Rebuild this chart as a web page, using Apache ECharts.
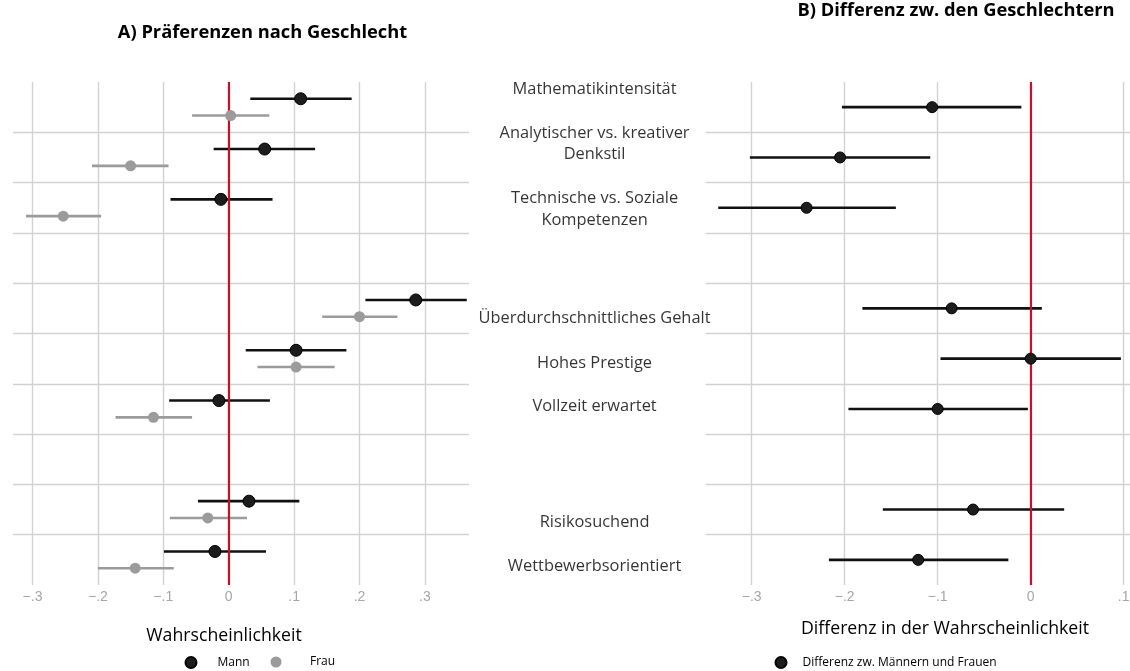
<!DOCTYPE html>
<html>
<head>
<meta charset="utf-8">
<script src="https://cdn.jsdelivr.net/npm/echarts@6/dist/echarts.min.js"></script>
<style>
html,body{margin:0;padding:0;background:#fff;}
#chart{width:1130px;height:671px;}
</style>
</head>
<body>
<div id="chart"></div>
<script>
// ---------- data ----------
var categories = ['Mathematikintensität', 'Analytischer vs. kreativer\nDenkstil', 'Technische vs. Soziale\nKompetenzen', '',
  'Überdurchschnittliches Gehalt', 'Hohes Prestige', 'Vollzeit erwartet', '', 'Risikosuchend', 'Wettbewerbsorientiert'];
var mannEst = [0.110, 0.055, -0.012, null, 0.286, 0.103, -0.015, null, 0.031, -0.021];
var mannLo  = [0.033, -0.023, -0.089, null, 0.209, 0.026, -0.091, null, -0.047, -0.099];
var mannHi  = [0.188, 0.132, 0.067, null, 0.364, 0.180, 0.063, null, 0.108, 0.057];
var frauEst = [0.003, -0.150, -0.253, null, 0.200, 0.103, -0.115, null, -0.032, -0.143];
var frauLo  = [-0.056, -0.209, -0.310, null, 0.143, 0.044, -0.173, null, -0.090, -0.200];
var frauHi  = [0.062, -0.092, -0.195, null, 0.258, 0.162, -0.056, null, 0.028, -0.084];
var diffEst = [-0.106, -0.205, -0.241, null, -0.085, 0.000, -0.100, null, -0.062, -0.121];
var diffLo  = [-0.203, -0.302, -0.336, null, -0.181, -0.097, -0.196, null, -0.159, -0.217];
var diffHi  = [-0.010, -0.108, -0.145, null, 0.012, 0.097, -0.003, null, 0.036, -0.024];
var ticksLeft = [-0.3, -0.2, -0.1, 0, 0.1, 0.2, 0.3];
var tickLabelsLeft = ['\u2212.3', '\u2212.2', '\u2212.1', '0', '.1', '.2', '.3'];
var ticksRight = [-0.3, -0.2, -0.1, 0, 0.1];
var tickLabelsRight = ['\u2212.3', '\u2212.2', '\u2212.1', '0', '.1'];

// ---------- layout ----------
var labelRowPos = [0.145, 1.233, 2.535, null, 4.704, 5.594, 6.453, null, 8.748, 9.622];
var offMann = 1 / 3, offFrau = 2 / 3, offDiff = 0.5;

function pts(est, off) {
  var out = [];
  est.forEach(function (v, i) { if (v !== null) out.push([v, i + off]); });
  return out;
}
function bars(lo, hi, off) {
  var out = [];
  lo.forEach(function (v, i) { if (v !== null) out.push([i + off, v, hi[i]]); });
  return out;
}
function errSeries(name, xi, data, color, width) {
  return {
    name: name, type: 'custom', xAxisIndex: xi, yAxisIndex: xi, silent: true,
    encode: { x: [1, 2], y: 0 },
    data: data,
    renderItem: function (params, api) {
      var y = api.value(0), lo = api.value(1), hi = api.value(2);
      var p1 = api.coord([lo, y]), p2 = api.coord([hi, y]);
      return { type: 'line', shape: { x1: p1[0], y1: p1[1], x2: p2[0], y2: p2[1] },
        style: { stroke: color, lineWidth: width } };
    },
    z: 3
  };
}
function fmt(labels, ticks) {
  return function (v) {
    for (var i = 0; i < ticks.length; i++) if (Math.abs(ticks[i] - v) < 1e-6) return labels[i];
    return '';
  };
}
var labelData = [];
categories.forEach(function (c, i) { if (c !== '' && labelRowPos[i] !== null) labelData.push({ value: [0.53, labelRowPos[i]], name: c }); });

var gridLine = { show: true, showMinLine: false, showMaxLine: false, lineStyle: { color: '#d2d2d2', width: 1.4 } };
var vGridLine = { show: true, lineStyle: { color: '#d2d2d2', width: 1.4 } };
var tickFont = { color: '#a6a6a6', fontFamily: 'Liberation Sans', fontSize: 14, margin: 5 };
var FONT = 'Open Sans';

function legendBox(name, left, padL) {
  return { data: [name], left: left, top: 656, padding: 0, itemWidth: 11, itemHeight: 11,
    icon: 'circle', textStyle: { fontFamily: FONT, fontSize: 12, color: '#000', padding: [0, 0, 0, padL] } };
}

var option = {
  animation: false,
  backgroundColor: '#fff',
  title: [
    { text: 'A) Präferenzen nach Geschlecht', left: 262.5, top: 24, padding: 0, textAlign: 'center',
      textStyle: { fontFamily: FONT, fontWeight: 'bold', fontSize: 18.3, color: '#000' } },
    { text: 'B) Differenz zw. den Geschlechtern', left: 956, top: 2, padding: 0, textAlign: 'center',
      textStyle: { fontFamily: FONT, fontWeight: 'bold', fontSize: 18.3, color: '#000' } },
    { text: 'Wahrscheinlichkeit', left: 224, top: 627, padding: 0, textAlign: 'center',
      textStyle: { fontFamily: FONT, fontWeight: 'normal', fontSize: 17.7, color: '#000' } },
    { text: 'Differenz in der Wahrscheinlichkeit', left: 945, top: 620, padding: 0, textAlign: 'center',
      textStyle: { fontFamily: FONT, fontWeight: 'normal', fontSize: 17.7, color: '#000' } }
  ],
  legend: [
    legendBox('Mann', 184.5, 16),
    legendBox('Frau', 270.5, 23.5),
    legendBox('Differenz zw. Männern und Frauen', 774.5, 11)
  ],
  grid: [
    { left: 13, top: 82, width: 456, height: 503, outerBoundsMode: 'none' },
    { left: 705.7, top: 82, width: 424.3, height: 503, outerBoundsMode: 'none' },
    { left: 470, top: 82, width: 235, height: 503, outerBoundsMode: 'none' }
  ],
  xAxis: [
    { type: 'value', gridIndex: 0, min: -0.3298, max: 0.3674,
      axisLine: { show: false }, axisTick: { show: false, customValues: ticksLeft },
      axisLabel: Object.assign({ customValues: ticksLeft, formatter: fmt(tickLabelsLeft, ticksLeft) }, tickFont),
      splitLine: vGridLine },
    { type: 'value', gridIndex: 1, min: -0.3495, max: 0.1068,
      axisLine: { show: false }, axisTick: { show: false, customValues: ticksRight },
      axisLabel: Object.assign({ customValues: ticksRight, formatter: fmt(tickLabelsRight, ticksRight) }, tickFont),
      splitLine: vGridLine },
    { type: 'value', gridIndex: 2, min: 0, max: 1, show: false }
  ],
  yAxis: [
    { type: 'value', gridIndex: 0, min: 0, max: 10, interval: 1, inverse: true,
      axisLine: { show: false }, axisTick: { show: false }, axisLabel: { show: false }, splitLine: gridLine },
    { type: 'value', gridIndex: 1, min: 0, max: 10, interval: 1, inverse: true,
      axisLine: { show: false }, axisTick: { show: false }, axisLabel: { show: false }, splitLine: gridLine },
    { type: 'value', gridIndex: 2, min: 0, max: 10, inverse: true, show: false }
  ],
  series: [
    errSeries('Mann CI', 0, bars(mannLo, mannHi, offMann), '#111', 2.6),
    errSeries('Frau CI', 0, bars(frauLo, frauHi, offFrau), '#9b9b9b', 2.6),
    errSeries('Diff CI', 1, bars(diffLo, diffHi, offDiff), '#111', 2.6),
    { name: 'Mann', type: 'scatter', xAxisIndex: 0, yAxisIndex: 0, data: pts(mannEst, offMann),
      symbolSize: 12, itemStyle: { color: '#1c1c1c', borderColor: '#000', borderWidth: 1, opacity: 1 }, z: 5,
      markLine: { silent: true, symbol: ['none', 'none'], label: { show: false },
        lineStyle: { color: '#c8102e', width: 2.2, type: 'solid' }, data: [{ xAxis: 0 }], z: 4 } },
    { name: 'Frau', type: 'scatter', xAxisIndex: 0, yAxisIndex: 0, data: pts(frauEst, offFrau),
      symbolSize: 11, itemStyle: { color: '#9b9b9b', opacity: 1 }, z: 5 },
    { name: 'Differenz zw. Männern und Frauen', type: 'scatter', xAxisIndex: 1, yAxisIndex: 1, data: pts(diffEst, offDiff),
      symbolSize: 11, itemStyle: { color: '#1c1c1c', borderColor: '#000', borderWidth: 1, opacity: 1 }, z: 5,
      markLine: { silent: true, symbol: ['none', 'none'], label: { show: false },
        lineStyle: { color: '#c8102e', width: 2.2, type: 'solid' }, data: [{ xAxis: 0 }], z: 4 } },
    { name: 'labels', type: 'scatter', xAxisIndex: 2, yAxisIndex: 2, data: labelData, symbolSize: 0, silent: true,
      label: { show: true, position: 'inside', formatter: '{b}', color: '#000', fontFamily: FONT, fontSize: 16.4,
        lineHeight: 21.5, align: 'center', verticalAlign: 'middle' } }
  ]
};
var chart = echarts.init(document.getElementById('chart'), null, { renderer: 'canvas' });
chart.setOption(option);
</script>
</body>
</html>
